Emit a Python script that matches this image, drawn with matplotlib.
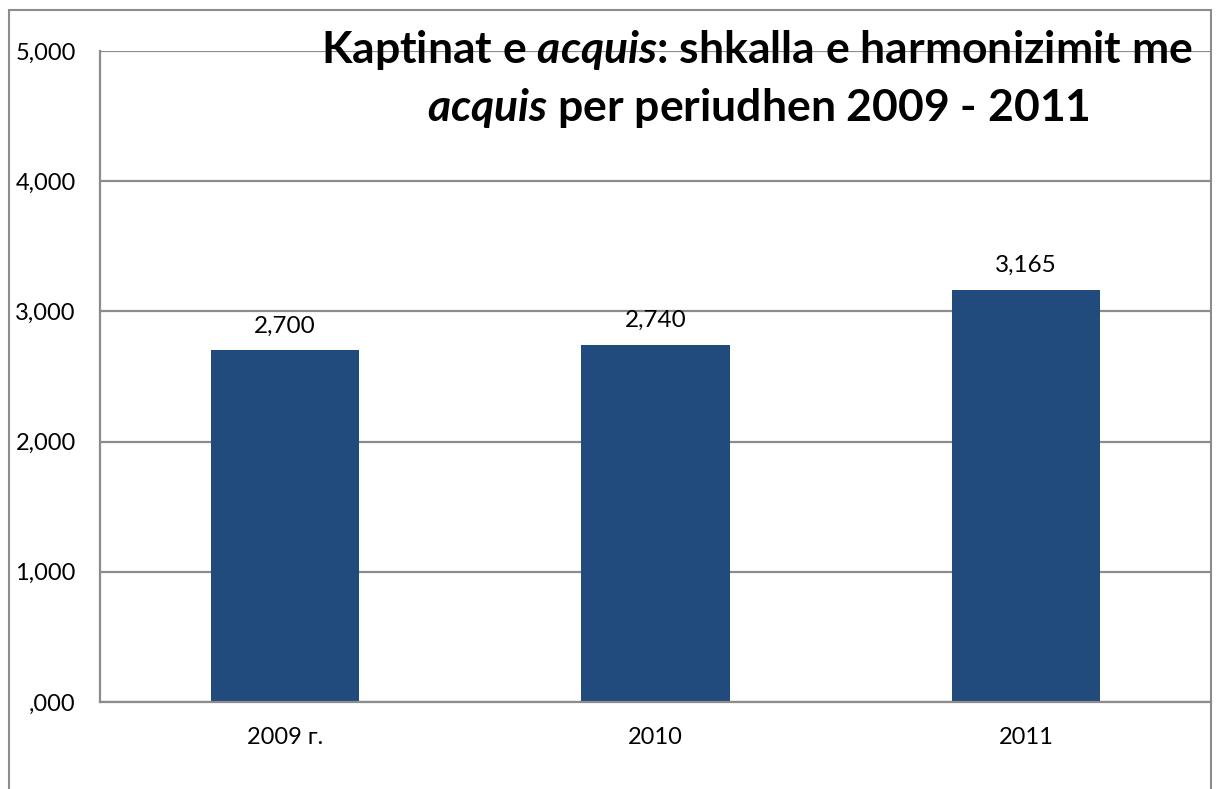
import matplotlib
matplotlib.use("Agg")
import matplotlib.pyplot as plt
from matplotlib.patches import Rectangle

categories = ["2009 г.", "2010", "2011"]
values = [2700, 2740, 3165]
bar_labels = ["2,700", "2,740", "3,165"]
yticks = [0, 1000, 2000, 3000, 4000, 5000]
ytick_labels = [",000", "1,000", "2,000", "3,000", "4,000", "5,000"]

plt.rcParams['font.family'] = ['Lato', 'DejaVu Sans']
plt.rcParams['mathtext.fontset'] = 'custom'
plt.rcParams['mathtext.it'] = 'Lato:italic:bold'
plt.rcParams['mathtext.rm'] = 'Lato:bold'
plt.rcParams['mathtext.bf'] = 'Lato:bold'

W, H = 1225, 789
fig = plt.figure(figsize=(W / 100, H / 100), dpi=100)

# outer border
fig.patches.append(Rectangle((9 / W, -0.05), (1211 - 9) / W, 1 - 10 / H + 0.05,
                             transform=fig.transFigure, fill=False,
                             edgecolor='#8c8c8c', linewidth=1.5))

ax = fig.add_axes([100 / W, 1 - 702 / H, (1211 - 100) / W, (702 - 51) / H])
ax.set_facecolor('none')
x = range(len(categories))
bars = ax.bar(x, values, width=0.4, color='#214A7D', zorder=2)
ax.set_xlim(-0.5, len(categories) - 0.5)
ax.set_ylim(0, 5000)
ax.set_yticks(yticks)
ax.set_yticklabels(ytick_labels, fontsize=17)
ax.set_xticks(list(x))
ax.set_xticklabels(categories, fontsize=17)
ax.tick_params(axis='both', length=0, colors='black')
ax.tick_params(axis='y', pad=17.5)
ax.tick_params(axis='x', pad=18)
ax.yaxis.grid(True, color='#8c8c8c', linewidth=1.6, zorder=0)
ax.set_axisbelow(True)
for s in ['top', 'right']:
    ax.spines[s].set_visible(False)
for s in ['left', 'bottom']:
    ax.spines[s].set_color('#8c8c8c')
    ax.spines[s].set_linewidth(1.6)

for b, lab in zip(bars, bar_labels):
    ax.annotate(lab, (b.get_x() + b.get_width() / 2, b.get_height()),
                xytext=(0, 13), textcoords='offset points',
                ha='center', va='baseline', fontsize=17.5)

fig.text(757 / W, 1 - 63 / H, r"Kaptinat e $\mathit{acquis}$: shkalla e harmonizimit me",
         ha='center', va='baseline', fontsize=32, fontweight='bold')
fig.text(758 / W, 1 - 121 / H, r"$\mathit{acquis}$ per periudhen 2009 - 2011",
         ha='center', va='baseline', fontsize=32, fontweight='bold')

fig.savefig("out.png", dpi=100)
